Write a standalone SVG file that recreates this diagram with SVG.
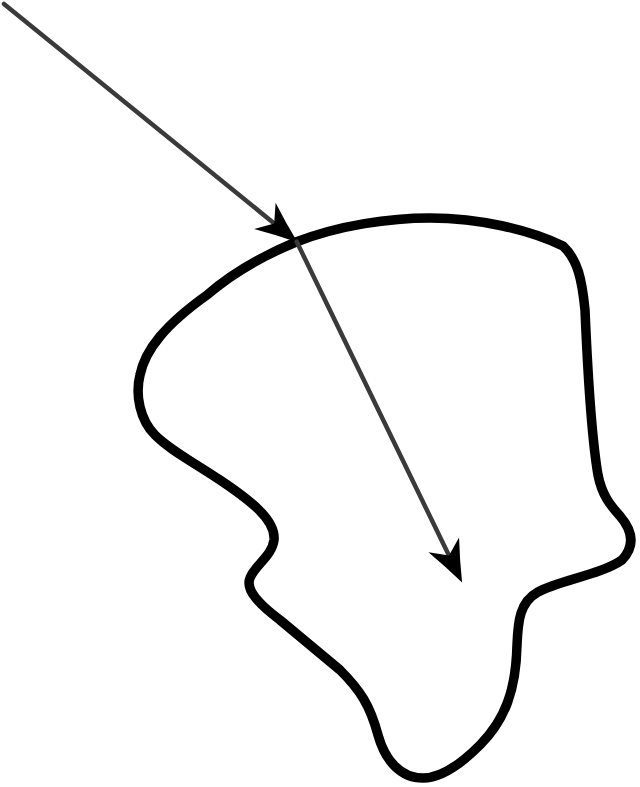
<svg xmlns="http://www.w3.org/2000/svg" width="640" height="787" viewBox="0 0 640 787">
  <defs>
    <style>
      .blob { fill: none; stroke: #000; stroke-width: 9.5; stroke-linejoin: round; }
      .ray { fill: none; stroke: #3a3a3a; stroke-width: 4.5; stroke-linecap: round; }
    </style>
    <marker id="arrow" markerUnits="userSpaceOnUse" markerWidth="46" markerHeight="38" viewBox="0 -19 46 38" refX="12" refY="0" orient="auto" overflow="visible">
      <path d="M 42,0 Q 20,-8 0,-17 L 12,0 L 0,17 Q 20,8 42,0 Z" fill="#000"/>
    </marker>
  </defs>
  <g id="blob">
    <path class="blob" d="M 296,242 C 340,225 390,218 430,218 C 480,218 530,230 563,246 C 578,260 582,280 585,310 C 588,380 592,440 598,475 C 602,495 610,505 620,516 C 632,530 636,545 622,560 C 600,575 560,580 538,592 C 520,602 518,620 517,645 C 516,690 505,720 480,745 C 460,765 440,778 423,778 C 400,778 385,760 378,735 C 370,705 360,690 340,670 L 280,620 C 260,605 245,590 250,578 C 255,565 272,556 274,540 C 276,520 250,500 220,480 C 190,460 170,450 155,435 C 140,420 135,395 140,375 C 145,350 165,325 207,295 C 230,275 260,257 296,242 Z"/>
  </g>
  <g id="connectors">
    <line class="ray" x1="4" y1="4" x2="274.2" y2="223.4" marker-end="url(#arrow)"/>
    <line class="ray" x1="296.7" y1="241.7" x2="449" y2="555.6" marker-end="url(#arrow)"/>
  </g>
</svg>
